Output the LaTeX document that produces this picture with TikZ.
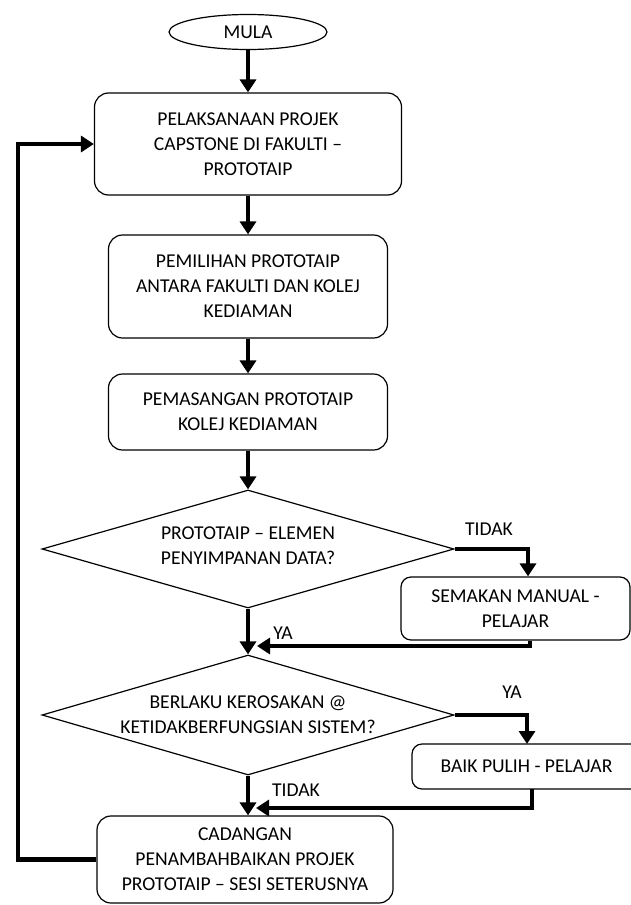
\documentclass[tikz,border=0pt]{standalone}
\usepackage{fontspec}
\setmainfont{Carlito}
\usetikzlibrary{shapes.geometric,arrows.meta}
\begin{document}
\begin{tikzpicture}[x=1pt,y=-1pt,
  txt/.style={font=\fontsize{19.6}{25}\selectfont, align=center},
  procbox/.style={draw, line width=1.2pt, rounded corners=14pt, txt, inner sep=0pt},
  sidebox/.style={procbox, rounded corners=10pt},
  dec/.style={draw, shape=diamond, line width=1.2pt, inner sep=0pt},
  term/.style={draw, shape=ellipse, line width=1.2pt, inner sep=0pt, txt},
  flow/.style={line width=4.5pt, -{Triangle[width=16pt,length=13pt]}},
  lbl/.style={txt, inner sep=0pt}]
\useasboundingbox (0,0) rectangle (631,905);

\node[term, minimum width=158pt, minimum height=35pt] (start) at (248,32) {MULA};
\node[procbox, minimum width=307pt, minimum height=102pt] (b1) at (248,144)
  {PELAKSANAAN PROJEK\\CAPSTONE DI FAKULTI –\\PROTOTAIP};
\node[procbox, minimum width=279pt, minimum height=103pt] (b2) at (248,286.5)
  {PEMILIHAN PROTOTAIP\\ANTARA FAKULTI DAN KOLEJ\\KEDIAMAN};
\node[procbox, minimum width=279pt, minimum height=76pt] (b3) at (248,412)
  {PEMASANGAN PROTOTAIP\\KOLEJ KEDIAMAN};
\node[dec, minimum width=412pt, minimum height=118pt,
  label={[txt, yshift=3pt]center:{PROTOTAIP – ELEMEN\\PENYIMPANAN DATA?}}] (d1) at (248,549) {};
\node[sidebox, minimum width=229pt, minimum height=63pt] (sem) at (515.5,608.5)
  {SEMAKAN MANUAL -\\PELAJAR};
\node[dec, minimum width=412pt, minimum height=120pt,
  label={[txt]center:{BERLAKU KEROSAKAN @\\KETIDAKBERFUNGSIAN SISTEM?}}] (d2) at (248,715) {};
\node[sidebox, minimum width=250pt, minimum height=45pt, text depth=0pt] (baik) at (537,766.5)
  {\hspace*{-21pt}BAIK PULIH - PELAJAR};
\node[procbox, minimum width=296pt, minimum height=87pt] (cad) at (245,859.5)
  {CADANGAN\\PENAMBAHBAIKAN PROJEK\\PROTOTAIP – SESI SETERUSNYA};

\node[lbl] (l1) at (489,529) {TIDAK};
\node[lbl] (l2) at (283,633) {YA};
\node[lbl] (l3) at (512,692) {YA};
\node[lbl] (l4) at (296,790) {TIDAK};

\coordinate (j1) at (257,646);
\coordinate (j2) at (256,808);
\coordinate (lp) at (18,859.5);
\coordinate (t2) at (527,744);
\coordinate (s2) at (532,789);

\draw[flow] (start) -- (b1);
\draw[flow] (b1) -- (b2);
\draw[flow] (b2) -- (b3);
\draw[flow] (b3) -- (d1);
\draw[flow] (d1) -- (d2);
\draw[flow] (d2.south) -- (d2.south |- cad.north);
\draw[flow] (d1.east) -| ([xshift=12.5pt]sem.north);
\draw[flow] ([xshift=14.5pt]sem.south) |- (j1);
\draw[flow] (d2.east) -| (t2);
\draw[flow] (s2) |- (j2);
\draw[flow] (cad.west) -- (lp) |- (b1.west);
\end{tikzpicture}
\end{document}
